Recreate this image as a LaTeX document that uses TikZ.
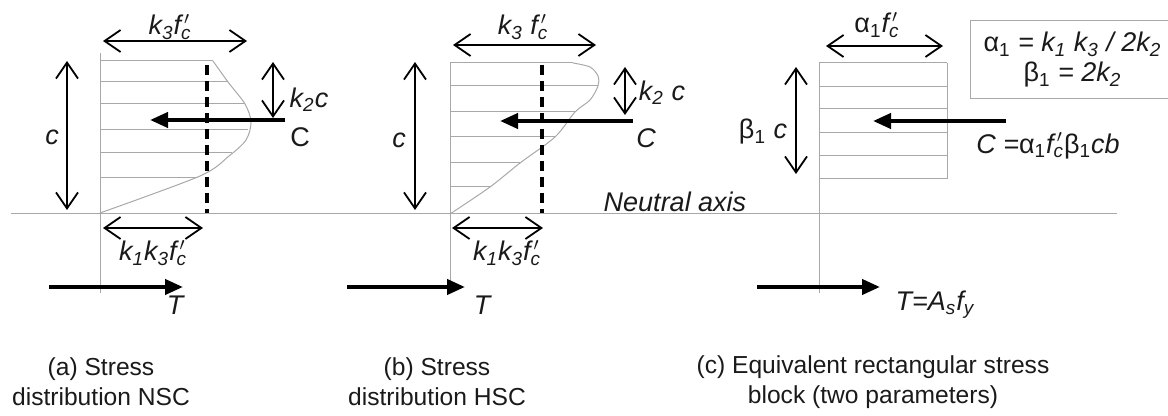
\documentclass[tikz,border=0pt]{standalone}
\usepackage{fontspec}
\setmainfont{Liberation Sans}
\usetikzlibrary{arrows.meta}
\definecolor{cbline}{HTML}{A8A8A8}
\definecolor{cbtext}{HTML}{1A1A1A}
\newcommand{\sbx}[1]{\textsubscript{#1}}
\newcommand{\fcx}{\textit{f}\rlap{\textsuperscript{\,$\prime$}}\sbx{c}}
\tikzset{
  stripe/.style={draw=cbline, line width=0.5pt},
  dim/.style={{Straight Barb[length=8pt,width=11pt]}-{Straight Barb[length=8pt,width=11pt]}, line width=0.9pt},
  force/.style={-{Triangle[length=9pt,width=7.5pt]}, line width=2pt},
  cline/.style={line width=1.8pt, dash pattern=on 5pt off 3pt},
  lbl/.style={font=\fontsize{13.5}{15}\selectfont\itshape, text=cbtext, inner sep=0pt},
  subcap/.style={font=\fontsize{12.3}{15}\selectfont, text=cbtext, align=center, inner sep=0pt},
}
\begin{document}
\begin{tikzpicture}[x=0.5pt, y=-0.5pt]
\useasboundingbox (0,0) rectangle (1168,416);
% neutral axis
\coordinate (naL) at (11,214);
\coordinate (naR) at (1117,214);
\draw[stripe] (naL) -- (naR);
\node[lbl] (naxis) at (675,202) {Neutral axis};

% (a) NSC
\draw[stripe] (100,53) -- (100,293);
\foreach \y/\x in {61/213, 82/228, 104/245, 130/248, 153/232, 178/198}
  \draw[stripe] (100,\y) -- (\x,\y);
\draw[stripe] plot[smooth] coordinates {(213,61) (228,82) (245,104) (251,122) (246,140) (229,156) (200,176) (100,213)};
\coordinate (aDt) at (207,65);
\coordinate (aDb) at (207,213);
\draw[cline] (aDt) -- (aDb);
\coordinate (aTopL) at (103,41);
\coordinate (aTopR) at (247,41);
\draw[dim] (aTopL) -- (aTopR);
\node[lbl] (aK3) at (170,27) {k\sbx{3}\fcx};
\coordinate (aCt) at (67,61);
\coordinate (aCb) at (67,210);
\draw[dim] (aCt) -- (aCb);
\node[lbl] (aC) at (52,137) {c};
\coordinate (aKt) at (273,62);
\coordinate (aKb) at (273,118);
\draw[dim] (aKt) -- (aKb);
\node[lbl] (aK2) at (309,100) {k\sbx{2}c};
\coordinate (aFs) at (285,120);
\coordinate (aFe) at (150,120);
\draw[force] (aFs) -- (aFe);
\node[lbl, font=\fontsize{13.5}{15}\selectfont] (aForce) at (300,137) {C};
\coordinate (aBotL) at (103,228);
\coordinate (aBotR) at (203,228);
\draw[dim] (aBotL) -- (aBotR);
\node[lbl] (aK13) at (153,253) {k\sbx{1}k\sbx{3}\fcx};
\coordinate (aTs) at (49,287);
\coordinate (aTe) at (183,287);
\draw[force] (aTs) -- (aTe);
\node[lbl] (aT) at (175,305) {T};
\node[subcap] (aCap) at (101,382) {(a) Stress\\distribution NSC};

% (b) HSC
\draw[stripe] (450,62) -- (450,293);
\foreach \y/\x in {63/573, 86/598, 112/575, 137/555, 163/520, 187/490}
  \draw[stripe] (450,\y) -- (\x,\y);
\draw[stripe] plot[smooth] coordinates {(573,63) (590,67) (598,76) (598,86) (590,100) (575,112) (555,137) (520,163) (490,187) (450,214)};
\coordinate (bDt) at (542,65);
\coordinate (bDb) at (542,213);
\draw[cline] (bDt) -- (bDb);
\coordinate (bTopL) at (453,45);
\coordinate (bTopR) at (596,45);
\draw[dim] (bTopL) -- (bTopR);
\node[lbl] (bK3) at (523,27) {k\sbx{3} \fcx};
\coordinate (bCt) at (415,62);
\coordinate (bCb) at (415,210);
\draw[dim] (bCt) -- (bCb);
\node[lbl] (bC) at (399,140) {c};
\coordinate (bKt) at (625,67);
\coordinate (bKb) at (625,115);
\draw[dim] (bKt) -- (bKb);
\node[lbl] (bK2) at (662,93) {k\sbx{2} c};
\coordinate (bFs) at (633,121);
\coordinate (bFe) at (500,121);
\draw[force] (bFs) -- (bFe);
\node[lbl] (bForce) at (646,138) {C};
\coordinate (bBotL) at (452,228);
\coordinate (bBotR) at (543,228);
\draw[dim] (bBotL) -- (bBotR);
\node[lbl] (bK13) at (507,253) {k\sbx{1}k\sbx{3}\fcx};
\coordinate (bTs) at (347,287);
\coordinate (bTe) at (465,287);
\draw[force] (bTs) -- (bTe);
\node[lbl] (bT) at (482,305) {T};
\node[subcap] (bCap) at (437,382) {(b) Stress\\distribution HSC};

% (c) rectangular block
\draw[stripe] (819,63) -- (819,293);
\foreach \y in {63, 87, 109, 133, 156, 179}
  \draw[stripe] (819,\y) -- (947,\y);
\draw[stripe] (947,63) -- (947,179);
\coordinate (cTopL) at (826,46);
\coordinate (cTopR) at (943,46);
\draw[dim] (cTopL) -- (cTopR);
\node[lbl] (cA1) at (877,25) {\textup{α\sbx{1}}\fcx};
\coordinate (cBt) at (796,67);
\coordinate (cBb) at (796,174);
\draw[dim] (cBt) -- (cBb);
\node[lbl] (cB1) at (763,132) {\textup{β\sbx{1}} c};
\coordinate (cFs) at (1006,121);
\coordinate (cFe) at (873,121);
\draw[force] (cFs) -- (cFe);
\node[lbl] (cForce) at (1048,146) {C =\textup{α\sbx{1}}\fcx\textup{β\sbx{1}}cb};
\node[lbl, stripe, minimum width=102.5pt, minimum height=39pt, align=center,
  font=\fontsize{13.5}{15}\selectfont\itshape] (cParams) at (1072.5,60)
  {\textup{α\sbx{1}} = k\sbx{1} k\sbx{3} / 2k\sbx{2}\\\textup{β\sbx{1}} = 2k\sbx{2}};
\coordinate (cTs) at (757,287);
\coordinate (cTe) at (880,287);
\draw[force] (cTs) -- (cTe);
\node[lbl] (cT) at (935,305) {T=A\sbx{s}f\sbx{y}};
\node[subcap] (cCap) at (873,382) {(c) Equivalent rectangular stress\\block (two parameters)};
\end{tikzpicture}
\end{document}
